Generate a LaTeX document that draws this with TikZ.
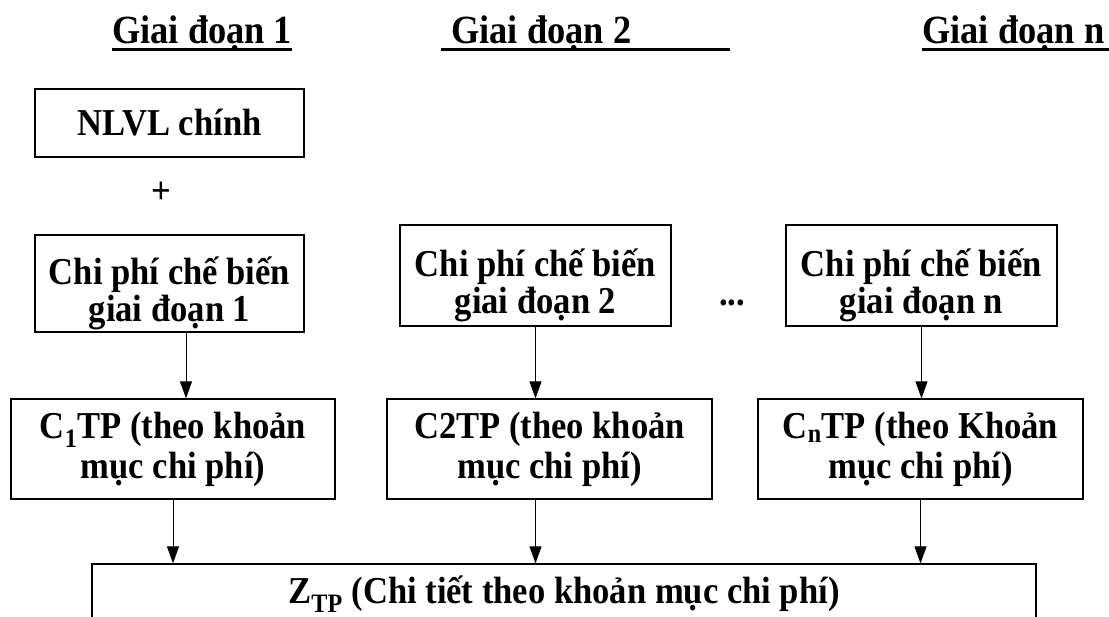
\documentclass[tikz,border=0pt]{standalone}
\usepackage{fontspec}
\setmainfont{Liberation Serif}[FakeStretch=0.91]
\usetikzlibrary{arrows.meta}
\tikzset{
	hdr/.style={inner sep=0pt, anchor=base west, font=\bfseries\fontsize{40}{42}\selectfont},
	uline/.style={line width=3pt},
	hop/.style={draw, line width=1.3pt, inner sep=0pt, align=center, font=\bfseries\fontsize{38}{37}\selectfont},
	cpbox/.style={hop, execute at begin node={\rule{0pt}{84pt}}},
	tpbox/.style={hop, font=\bfseries\fontsize{38}{40}\selectfont},
	mark txt/.style={inner sep=0pt, font=\bfseries\fontsize{38}{37}\selectfont},
	arr/.style={line width=1pt, -{Triangle[width=12pt,length=17pt]}}
}

\begin{document}
\begin{tikzpicture}[x=1pt, y=-1pt]
		%%%%% START %%%%%
		\useasboundingbox (0,0) rectangle (1109,617);
		
		\node[hdr] (h1) at (112,44) {Giai đoạn 1};
		\node[hdr] (h2) at (451,44) {Giai đoạn 2};
		\node[hdr] (hn) at (922,44) {Giai đoạn n};
		\draw[uline] ([yshift=-6pt]h1.base west) -- ([yshift=-6pt]h1.base east);
		\draw[uline] ([xshift=-10pt,yshift=-6pt]h2.base west) -- ++(289,0);
		\draw[uline] ([yshift=-6pt]hn.base west) -- ([xshift=10pt,yshift=-6pt]hn.base east);
		
		\node[hop, minimum width=269pt, minimum height=68pt] (nlvl) at (169.5,123) {NLVL chính};
		\node[mark txt] (plus) at (161,193) {+};
		
		\node[cpbox, minimum width=269pt, minimum height=97pt] (cp1) at (169.5,283.5) {Chi phí chế biến\\giai đoạn 1};
		\node[cpbox, minimum width=271pt, minimum height=101pt] (cp2) at (535.5,275.5) {Chi phí chế biến\\giai đoạn 2};
		\node[mark txt, anchor=base] (dots) at (732,306) {...};
		\node[cpbox, minimum width=271pt, minimum height=101pt] (cpn) at (921.5,275.5) {Chi phí chế biến\\giai đoạn n};
		
		\node[tpbox, minimum width=324pt, minimum height=100pt] (c1) at (173,449) {C\textsubscript{1}TP (theo khoản\\mục chi phí)};
		\node[tpbox, minimum width=325pt, minimum height=100pt] (c2) at (549.5,449) {C2TP (theo khoản\\mục chi phí)};
		\node[tpbox, minimum width=325pt, minimum height=100pt] (cn) at (920.5,449) {C\textsubscript{n}TP (theo Khoản\\mục chi phí)};
		
		\node[hop, minimum width=944pt, minimum height=60pt] (z) at (564,594) {Z\textsubscript{TP} (Chi tiết theo khoản mục chi phí)};
		
		\draw[arr] ([xshift=16.5pt]cp1.south) -- ([xshift=16.5pt]cp1.south |- c1.north);
		\draw[arr] (cp2.south) -- (cp2.south |- c2.north);
		\draw[arr] (cpn.south) -- (cpn.south |- cn.north);
		
		\draw[arr] (c1.south) -- (c1.south |- z.north);
		\draw[arr] (cp2.south |- c2.south) -- (cp2.south |- z.north);
		\draw[arr] (cn.south) -- (cn.south |- z.north);
		
		%%%%% END %%%%%
	\end{tikzpicture}
\end{document}
